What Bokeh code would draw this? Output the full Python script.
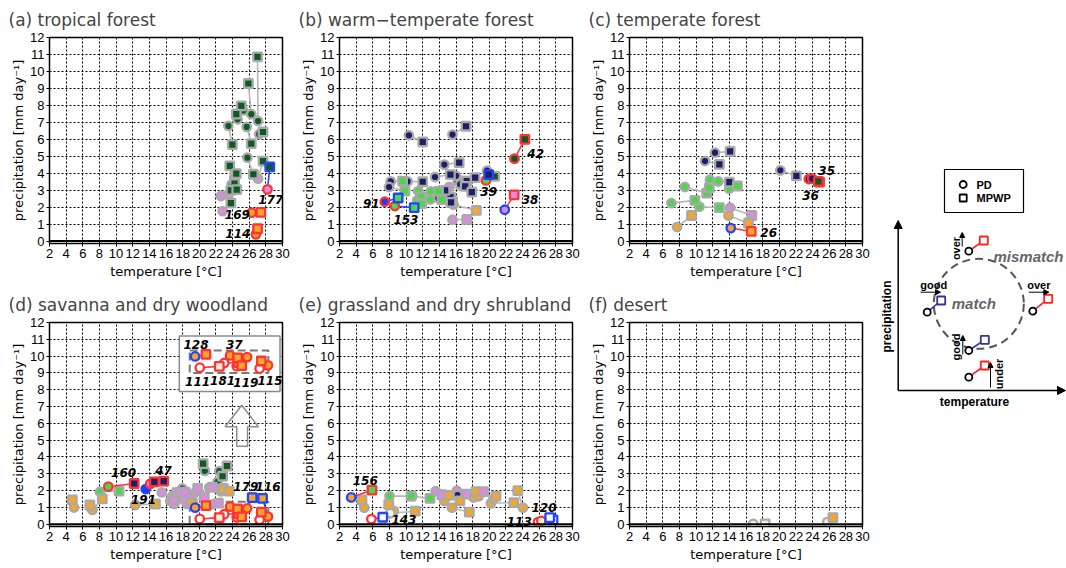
import numpy as np
from bokeh.plotting import figure
from bokeh.models import Range1d, FixedTicker, Span, Arrow, NormalHead
from bokeh.layouts import row, column
from bokeh.core.properties import value
from bokeh.embed import file_html
from bokeh.resources import INLINE

# ---------------- data (PD circle -> MPWP square pairs) ----------------
# vegetation codes: T tropical forest, W warm-temperate, C temperate, S savanna,
# G grassland, D desert, X open/none, B other (blue)
# edge codes: g = match (grey), r = mismatch (red), b = good (blue)

a_pd_t = [27.06, 26.25, 25.3, 24.6, 25.7, 23.5, 27.2, 25.78, 27.06, 23.9, 24.2, 23.5, 22.6, 24.3, 22.8, 28.2, 26.3, 26.8]
a_pd_p = [7.08, 7.48, 7.7, 7.18, 6.73, 6.79, 6.3, 4.92, 3.68, 3.35, 3.75, 2.76, 2.66, 3.2, 1.77, 3.05, 1.68, 0.40]
a_mp_t = [27.0, 25.9, 25.05, 24.45, 26.25, 23.97, 27.66, 26.5, 27.66, 23.67, 24.45, 24.24, 23.8, 24.5, 23.8, 28.47, 27.4, 27.0]
a_mp_p = [10.86, 9.29, 7.97, 7.48, 5.75, 5.69, 6.43, 3.94, 4.72, 4.43, 3.98, 3.39, 2.99, 3.03, 2.24, 4.37, 1.69, 0.73]
a_pd_v = list("TTTTTTTTGTTGGTGGSS")
a_mp_v = list("TTTTTTTTTTTTTTTTSS")
a_pd_e = list("gggggggggggggggrrr")
a_mp_e = list("gggggggggggggggbrr")
a_lab_t = [28.6, 24.57, 24.64]
a_lab_p = [2.44, 1.58, 0.47]
a_lab_s = ["177", "169", "114"]

b_pd_t = [10.34, 15.58, 14.6, 13.48, 10.18, 8.16, 16.2, 16.0, 16.5, 15.2, 13.8, 14.2, 7.96, 19.73, 15.6, 15.7, 15.58, 11.46, 12.96, 11.35, 12.9, 7.44, 8.65, 19.6, 23.03, 21.86]
b_pd_p = [6.24, 6.28, 4.51, 3.78, 3.52, 3.52, 3.54, 3.85, 3.35, 3.2, 2.56, 2.9, 3.19, 4.15, 2.5, 2.15, 1.26, 2.95, 2.93, 2.4, 2.46, 2.32, 2.07, 3.58, 4.86, 1.85]
b_mp_t = [12.0, 17.2, 16.38, 15.33, 12.0, 9.58, 17.3, 18.3, 17.1, 17.9, 15.33, 14.7, 9.86, 20.65, 15.4, 18.44, 17.3, 11.8, 13.9, 11.87, 14.3, 9.05, 10.98, 19.93, 24.28, 22.99]
b_mp_p = [5.85, 6.77, 4.63, 3.92, 3.5, 3.54, 3.54, 3.74, 3.23, 2.89, 2.6, 2.99, 2.95, 3.82, 2.28, 1.81, 1.28, 2.6, 2.93, 2.21, 2.45, 2.54, 1.97, 3.92, 6.0, 2.73]
b_pd_v = list("WWWWWWWWWGWCWWGGGCCCCBCCTG")
b_mp_v = list("WWWWWCWWWWWWCTWSGCCCCCCWTG")
b_pd_e = list("g" * 21 + "rrrrb")
b_mp_e = list("g" * 21 + "bbbrr")
b_lab_t = [25.57, 19.93, 24.9, 5.83, 9.98]
b_lab_p = [5.19, 2.95, 2.44, 2.24, 1.28]
b_lab_s = ["42", "39", "38", "91", "153"]

c_pd_t = [12.27, 11.07, 20.13, 12.67, 13.97, 8.65, 11.67, 7.04, 10.4, 14.09, 13.89, 7.72, 14.17, 23.55, 23.95]
c_pd_p = [5.21, 4.72, 4.17, 3.52, 3.09, 3.19, 3.62, 2.24, 2.03, 1.97, 1.51, 0.83, 0.77, 3.66, 3.68]
c_mp_t = [14.09, 12.8, 22.06, 14.0, 14.97, 11.27, 11.59, 9.86, 12.8, 16.7, 16.3, 9.45, 16.63, 24.84, 24.7]
c_mp_p = [5.29, 4.52, 3.84, 3.48, 3.25, 2.83, 3.15, 2.4, 1.97, 1.51, 1.06, 1.51, 0.57, 3.48, 3.52]
c_pd_v = list("WWWCCCCCCGSSSWW")
c_mp_v = list("WWWWCCCCCGSSSTT")
c_pd_e = list("ggggggggggggbrr")
c_mp_e = list("ggggggggggggrrr")
c_lab_t = [25.69, 23.76, 18.72]
c_lab_p = [4.17, 2.7, 0.53]
c_lab_s = ["35", "36", "26"]

d_pd_t = [4.95, 7.0, 7.17, 8.06, 12.3, 9.07, 13.56, 14.1, 15.5, 16.5, 17.0, 17.96, 19.37, 18.5, 21.2, 21.6, 22.0, 22.6, 20.67, 22.4, 22.2, 16.8, 18.9, 19.5, 20.06, 23.0, 23.7, 24.5, 27.25, 25.75, 28.26]
d_pd_p = [0.99, 0.95, 0.85, 1.93, 1.14, 2.23, 2.09, 2.4, 1.89, 1.38, 1.2, 2.12, 1.83, 1.2, 2.18, 1.18, 2.16, 1.95, 3.17, 3.15, 2.52, 1.7, 1.5, 0.98, 0.31, 0.59, 1.04, 0.4, 0.26, 0.94, 0.45]
d_mp_t = [4.75, 6.85, 8.34, 10.36, 14.73, 12.18, 14.6, 15.73, 16.9, 17.3, 18.08, 17.7, 19.8, 20.6, 21.6, 22.3, 22.9, 23.6, 20.46, 23.33, 22.8, 18.3, 19.1, 20.8, 22.4, 24.7, 24.6, 25.1, 27.45, 26.36, 27.6]
d_mp_p = [1.44, 1.14, 1.5, 1.97, 1.2, 2.42, 2.52, 2.56, 1.5, 1.87, 1.53, 1.9, 2.12, 1.63, 2.2, 1.25, 2.12, 1.97, 3.6, 3.46, 2.85, 1.9, 1.25, 1.1, 0.39, 0.61, 0.9, 0.43, 0.71, 1.58, 1.53]
d_pd_v = list("SSSCSCBGGGGWGGGGSSTTTGGSXXSXXSS")
d_mp_v = list("SSSCSWWWGGGGGGGGSSTTTGSSDSSSSSS")
d_pd_e = list("ggggg" + "rbr" + "g" * 15 + "brrrrrrr")
d_mp_e = list("ggggg" + "rrr" + "g" * 15 + "rrrrrrbb")
d_lab_t = [10.9, 15.7, 13.3, 25.6, 28.26, 19.6, 24.2, 19.8, 22.8, 25.6, 28.5]
d_lab_p = [3.1, 3.2, 1.44, 2.26, 2.26, 10.72, 10.72, 8.46, 8.56, 8.42, 8.56]
d_lab_s = ["160", "47", "191", "179", "116", "128", "37", "111", "181", "119", "115"]

e_pd_t = [3.41, 5.83, 4.98, 8.53, 8.1, 8.0, 10.75, 13.56, 14.6, 15.5, 16.1, 16.18, 18.1, 18.7, 20.2, 20.5, 24.04, 25.85, 26.25]
e_pd_p = [1.59, 0.3, 0.98, 0.79, 0.65, 1.67, 1.67, 1.97, 1.38, 0.98, 1.99, 1.73, 1.59, 1.65, 1.24, 1.5, 0.98, 0.12, 0.2]
e_mp_t = [5.9, 7.2, 4.7, 7.92, 11.1, 10.6, 12.88, 14.3, 15.17, 17.6, 17.19, 16.46, 18.4, 19.34, 22.95, 20.8, 23.43, 27.66, 27.26]
e_mp_p = [2.03, 0.41, 1.44, 1.18, 0.77, 1.67, 1.53, 1.75, 1.71, 0.71, 1.79, 1.38, 1.93, 1.93, 1.28, 1.67, 1.99, 0.26, 0.39]
e_pd_v = list("SXSSDCCGSSGWSSSSSXD")
e_mp_v = list("CXSSSCCGSSGSSGSSSXX")
e_pd_e = list("br" + "g" * 15 + "rr")
e_mp_e = list("rb" + "g" * 15 + "bb")
e_lab_t = [5.1, 9.74, 26.57, 23.6]
e_lab_p = [2.62, 0.3, 0.98, 0.16]
e_lab_s = ["156", "143", "120", "113"]

f_pd_t = [16.87, 25.77]
f_pd_p = [0.02, 0.12]
f_mp_t = [18.3, 26.45]
f_mp_p = [0.02, 0.39]
f_pd_v = list("DD")
f_mp_v = list("DS")
f_pd_e = list("gg")
f_mp_e = list("gg")

x_ticks = list(range(2, 31, 2))
y_ticks = list(range(0, 13))

VEG = {"T": "#0f5a24", "W": "#1c1f66", "C": "#4cd64c", "S": "#f4a62a", "G": "#dc8ce0",
       "D": "#f2f2dc", "X": "#ffffff", "B": "#1f3dff"}
EDGE = {"g": "#a9a9a9", "r": "#ff3333", "b": "#2244ff"}
LINK = {"g": "#b8b8b8", "r": "#ff3333", "b": "#2244ff"}
FONT = "DejaVu Sans"
TICKFONT = "Liberation Sans"


def draw_pairs(p, pd_t, pd_p, mp_t, mp_p, pd_v, mp_v, pd_e, mp_e, dy=0.0, inset=False):
    n = len(pd_t)
    def in_box(x, y):
        return 18.8 <= x <= 28.4 and y <= 1.36
    groups = [[i for i in range(n) if pd_e[i] == "g" and mp_e[i] == "g"],
              [i for i in range(n) if not (pd_e[i] == "g" and mp_e[i] == "g")]]
    for g in groups:
        if inset:
            kp = [i for i in g if pd_e[i] != "g" and in_box(pd_t[i], pd_p[i])]
            km = [i for i in g if mp_e[i] != "g" and in_box(mp_t[i], mp_p[i])]
            ks = [i for i in kp if i in km]
        else:
            kp, km, ks = g, g, g
        if ks:
            p.segment(x0=[pd_t[i] for i in ks], y0=[pd_p[i] + dy for i in ks],
                      x1=[mp_t[i] for i in ks], y1=[mp_p[i] + dy for i in ks],
                      line_color=[LINK[mp_e[i]] for i in ks], line_width=1.6)
        if kp:
            p.scatter(x=[pd_t[i] for i in kp], y=[pd_p[i] + dy for i in kp], marker="circle", size=8.5,
                      fill_color=[VEG[pd_v[i]] for i in kp], line_color=[EDGE[pd_e[i]] for i in kp],
                      line_width=2.3)
        if km:
            p.scatter(x=[mp_t[i] for i in km], y=[mp_p[i] + dy for i in km], marker="square", size=8.5,
                      fill_color=[VEG[mp_v[i]] for i in km], line_color=[EDGE[mp_e[i]] for i in km],
                      line_width=2.3)


def make_panel(title, height, top, bottom, data, labels=None, extra=None):
    p = figure(width=290, height=height, x_range=Range1d(2, 30), y_range=Range1d(-0.14, 12),
               output_backend="svg", toolbar_location=None,
               min_border_left=49, min_border_right=8, min_border_top=top, min_border_bottom=bottom)
    p.title.text = title
    p.title.text_font = FONT
    p.title.text_font_size = "17px"
    p.title.text_font_style = "normal"
    p.title.align = "left"
    p.title.offset = -41
    p.title.standoff = 15
    p.outline_line_color = "black"
    p.outline_line_width = 1.5
    p.background_fill_color = "white"
    p.border_fill_color = "white"
    p.xaxis.ticker = FixedTicker(ticks=x_ticks)
    p.yaxis.ticker = FixedTicker(ticks=y_ticks)
    p.xgrid.ticker = FixedTicker(ticks=x_ticks)
    p.ygrid.ticker = FixedTicker(ticks=y_ticks)
    for gr in (p.xgrid, p.ygrid):
        gr.grid_line_color = "black"
        gr.grid_line_dash = "2 2"
        gr.grid_line_width = 1
    for ax in (p.xaxis, p.yaxis):
        ax.axis_line_color = "black"
        ax.major_tick_in = 0
        ax.major_tick_out = 3
        ax.minor_tick_line_color = None
        ax.major_label_text_font = TICKFONT
        ax.major_label_text_font_size = "13px"
        ax.major_label_text_color = "black"
        ax.axis_label_text_font = FONT
        ax.axis_label_text_font_size = "13px"
        ax.axis_label_text_font_style = "normal"
        ax.axis_label_text_color = "black"
        ax.major_label_standoff = 2
        ax.axis_label_standoff = 3
    p.yaxis.axis_label_standoff = 1
    p.xaxis.axis_label = "temperature [°C]"
    p.yaxis.axis_label = "precipitation [mm day⁻¹]"
    p.add_layout(Span(location=0, dimension="width", line_color="black", line_width=2))
    if extra:
        extra(p)
    draw_pairs(p, *data)
    if labels:
        p.text(x=labels[0], y=labels[1], text=labels[2], text_font=value(FONT),
               text_font_style="bold italic", text_font_size="12px",
               text_align="center", text_baseline="middle", text_color="black")
    return p


def d_extra(p):
    # large hollow arrow pointing at the inset
    p.patch(x=[24.5, 25.8, 25.8, 27.1, 25.1, 23.1, 24.5],
            y=[4.64, 4.64, 5.8, 5.8, 7.08, 5.8, 5.8],
            fill_color=None, line_color="#8c8c8c", line_width=1.5)
    # dashed box around the magnified region
    p.quad(left=18.85, right=28.3, bottom=0.0, top=1.33, fill_color=None,
           line_color="#7a7a7a", line_width=2, line_dash="8 4")


def d_inset(p):
    p.quad(left=17.6, right=29.7, bottom=7.9, top=11.2, fill_color="white",
           line_color="#8a8a8a", line_width=1.5)
    p.quad(left=18.85, right=28.3, bottom=9.0, top=10.33, fill_color=None,
           line_color="#7a7a7a", line_width=2, line_dash="8 4")
    draw_pairs(p, d_pd_t, d_pd_p, d_mp_t, d_mp_p, d_pd_v, d_mp_v, d_pd_e, d_mp_e, dy=9.0, inset=True)
    p.text(x=d_lab_t[5:], y=d_lab_p[5:], text=d_lab_s[5:], text_font=value(FONT),
           text_font_style="bold italic", text_font_size="12px",
           text_align="center", text_baseline="middle", text_color="black")


H1, T1, B1 = 285, 37, 42
H2, T2, B2 = 280, 37, 39

pa = make_panel("(a) tropical forest", H1, T1, B1,
                (a_pd_t, a_pd_p, a_mp_t, a_mp_p, a_pd_v, a_mp_v, a_pd_e, a_mp_e),
                (a_lab_t, a_lab_p, a_lab_s))
pb = make_panel("(b) warm\u2212temperate forest", H1, T1, B1,
                (b_pd_t, b_pd_p, b_mp_t, b_mp_p, b_pd_v, b_mp_v, b_pd_e, b_mp_e),
                (b_lab_t, b_lab_p, b_lab_s))
pc = make_panel("(c) temperate forest", H1, T1, B1,
                (c_pd_t, c_pd_p, c_mp_t, c_mp_p, c_pd_v, c_mp_v, c_pd_e, c_mp_e),
                (c_lab_t, c_lab_p, c_lab_s))
pd = make_panel("(d) savanna and dry woodland", H2, T2, B2,
                (d_pd_t, d_pd_p, d_mp_t, d_mp_p, d_pd_v, d_mp_v, d_pd_e, d_mp_e),
                (d_lab_t[:5], d_lab_p[:5], d_lab_s[:5]), extra=d_extra)
d_inset(pd)
pe = make_panel("(e) grassland and dry shrubland", H2, T2, B2,
                (e_pd_t, e_pd_p, e_mp_t, e_mp_p, e_pd_v, e_mp_v, e_pd_e, e_mp_e),
                (e_lab_t, e_lab_p, e_lab_s))
pf = make_panel("(f) desert", H2, T2, B2,
                (f_pd_t, f_pd_p, f_mp_t, f_mp_p, f_pd_v, f_mp_v, f_pd_e, f_mp_e))

# ---------------- schematic legend (coordinates in page pixels) ----------------
SH = H1 + H2
ps = figure(width=196, height=SH, x_range=Range1d(870, 1066), y_range=Range1d(-SH, 0),
            output_backend="svg", toolbar_location=None, min_border=0,
            min_border_left=0, min_border_right=0, min_border_top=0, min_border_bottom=0)
ps.axis.visible = False
ps.grid.visible = False
ps.outline_line_color = None
ps.background_fill_color = "white"
ps.border_fill_color = "white"

ps.quad(left=944, right=1023, top=-169, bottom=-212, fill_color="white", line_color="black", line_width=1.2)
ps.scatter(x=[962.7], y=[-184], marker="circle", size=7, fill_color="white", line_color="black", line_width=1.8)
ps.scatter(x=[962.7], y=[-197.5], marker="square", size=7, fill_color="white", line_color="black", line_width=1.8)
ps.text(x=[976, 976], y=[-184, -197.5], text=["PD", "MPWP"], text_font=value("Liberation Sans"),
        text_font_style="bold", text_font_size="11px", text_baseline="middle", text_align="left")

ps.add_layout(Arrow(end=NormalHead(size=8, fill_color="black", line_color="black"),
                    x_start=897.7, y_start=-390, x_end=897.7, y_end=-220, line_width=1.5))
ps.add_layout(Arrow(end=NormalHead(size=8, fill_color="black", line_color="black"),
                    x_start=897.7, y_start=-390, x_end=1065, y_end=-390, line_width=1.5))
ps.text(x=[886.5], y=[-316], text=["precipitation"], angle=np.pi / 2, text_font=value("Liberation Sans"),
        text_font_style="bold", text_font_size="12px", text_align="center", text_baseline="middle")
ps.text(x=[974], y=[-401], text=["temperature"], text_font=value("Liberation Sans"),
        text_font_style="bold", text_font_size="12px", text_align="center", text_baseline="middle")

ps.ellipse(x=[978.3], y=[-303.3], width=90, height=90, fill_color=None, line_color="#555555",
           line_width=2, line_dash="8 5")
ps.text(x=[973.3], y=[-302.7], text=["match"], text_font=value("Liberation Sans"),
        text_font_style="bold italic", text_font_size="15px", text_color="#666666",
        text_align="center", text_baseline="middle")
ps.text(x=[993], y=[-256], text=["mismatch"], text_font=value("Liberation Sans"),
        text_font_style="bold italic", text_font_size="15px", text_color="#666666",
        text_align="left", text_baseline="middle")

sc_pd_x = [968.3, 926.7, 1032.3, 968.3, 968.3]
sc_pd_y = [-250.7, -311.7, -310.7, -350, -376.7]
sc_mp_x = [983.3, 940.7, 1047.7, 984.3, 984.3]
sc_mp_y = [-240, -300, -298.3, -339.3, -365]
sc_col = ["#ff2020", "#33339a", "#ff2020", "#33339a", "#ff2020"]
ps.segment(x0=sc_pd_x, y0=sc_pd_y, x1=sc_mp_x, y1=sc_mp_y, line_color=sc_col, line_width=1.6)
ps.scatter(x=sc_pd_x, y=sc_pd_y, marker="circle", size=7, fill_color="white", line_color="black", line_width=1.8)
ps.scatter(x=sc_mp_x, y=sc_mp_y, marker="square", size=8, fill_color="white", line_color=sc_col, line_width=1.8)

for (x0, y0, x1, y1) in [(961.7, -246, 961.7, -232), (920, -291.7, 940, -291.7),
                         (1028.3, -291.7, 1048.3, -291.7), (962.3, -354, 962.3, -335),
                         (990, -387, 990, -362)]:
    ps.add_layout(Arrow(end=NormalHead(size=5, fill_color="black", line_color="black"),
                        x_start=x0, y_start=y0, x_end=x1, y_end=y1, line_width=1))
ps.text(x=[933.3, 1038.3], y=[-284.5, -284.5], text=["good", "over"], text_font=value("Liberation Sans"),
        text_font_style="bold", text_font_size="11px", text_align="center", text_baseline="middle")
ps.text(x=[955.5, 955, 998.5], y=[-248, -346.5, -373.5], text=["over", "good", "under"], angle=np.pi / 2,
        text_font=value("Liberation Sans"), text_font_style="bold", text_font_size="11px",
        text_align="center", text_baseline="middle")

layout = row(column(row(pa, pb, pc), row(pd, pe, pf)), ps)
open("out.html", "w").write(file_html(layout, INLINE))
